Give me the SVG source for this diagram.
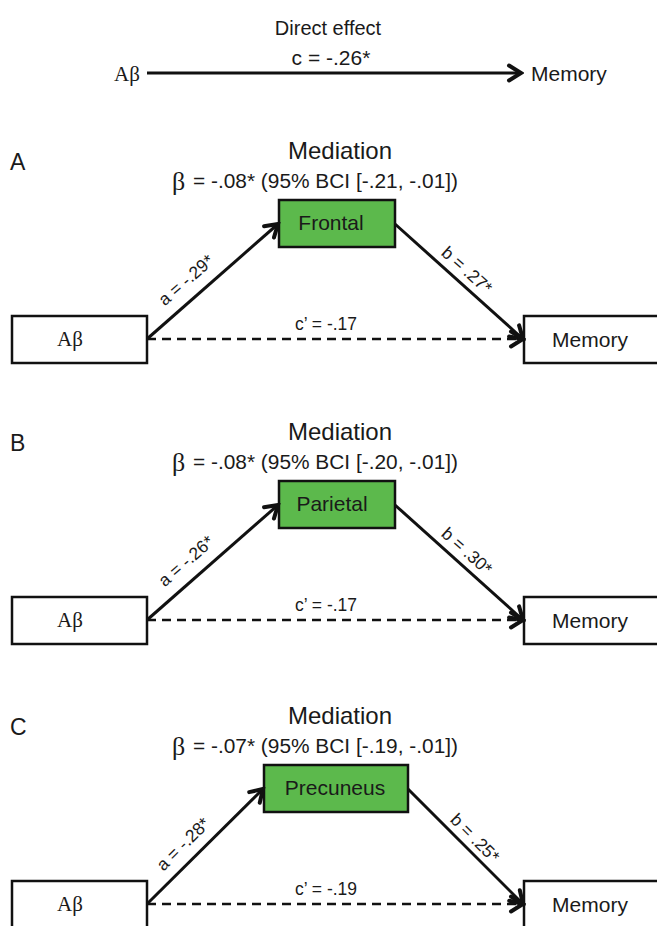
<svg xmlns="http://www.w3.org/2000/svg" width="657" height="926" viewBox="0 0 657 926">
<style>
.t{font-family:"Liberation Sans",Arial,sans-serif;fill:#1a1a1a}
.s{font-family:"Liberation Serif","Times New Roman",serif;fill:#1a1a1a}
.box{fill:#fff;stroke:#111;stroke-width:2.5}
.med{fill:#5cb94c;stroke:#111;stroke-width:2.5}
.ln{stroke:#111;stroke-width:3;fill:none}
.dash{stroke:#111;stroke-width:2.5;stroke-dasharray:9 6;fill:none}
.lbl{font-size:17.5px}
</style>
<defs>
<marker id="arr" markerUnits="userSpaceOnUse" markerWidth="20" markerHeight="20" viewBox="0 0 20 20" refX="17" refY="10" orient="auto">
<path d="M5,2.5 L17,10 L5,17.5" fill="none" stroke="#111" stroke-width="4" stroke-linecap="round" stroke-linejoin="miter" stroke-dasharray="none"/>
</marker>
</defs>

<g id="top">
<text class="t" x="328" y="35" font-size="20" text-anchor="middle">Direct effect</text>
<text class="t" x="331" y="65" font-size="21" text-anchor="middle">c = -.26*</text>
<text id="top-abeta" class="s" x="127" y="81" font-size="21" text-anchor="middle">Aβ</text>
<text id="top-memory" class="t" x="531" y="81" font-size="21">Memory</text>
</g>

<!-- Panel A -->
<g id="panelA-titles">
<text class="t" x="10" y="170" font-size="23">A</text>
<text class="t" x="340" y="159" font-size="24" text-anchor="middle">Mediation</text>
<text class="s" x="172" y="190" font-size="26">β</text>
<text class="t" x="193" y="188" font-size="20" textLength="265" lengthAdjust="spacingAndGlyphs">= -.08* (95% BCI [-.21, -.01])</text>
</g>
<g id="A-abeta"><rect class="box" x="12" y="316" width="135" height="47"/><text class="s" x="70" y="346" font-size="21" text-anchor="middle">Aβ</text></g>
<g id="A-frontal"><rect class="med" x="279" y="200" width="116" height="47"/><text class="t" x="331" y="230" font-size="21" text-anchor="middle">Frontal</text></g>
<g id="A-memory"><rect class="box" x="524" y="316" width="140" height="47"/><text class="t" x="590" y="347" font-size="21" text-anchor="middle">Memory</text></g>

<!-- Panel B -->
<g id="panelB-titles">
<text class="t" x="10" y="451" font-size="23">B</text>
<text class="t" x="340" y="440" font-size="24" text-anchor="middle">Mediation</text>
<text class="s" x="172" y="471" font-size="26">β</text>
<text class="t" x="193" y="469" font-size="20" textLength="265" lengthAdjust="spacingAndGlyphs">= -.08* (95% BCI [-.20, -.01])</text>
</g>
<g id="B-abeta"><rect class="box" x="12" y="597" width="135" height="47"/><text class="s" x="70" y="627" font-size="21" text-anchor="middle">Aβ</text></g>
<g id="B-parietal"><rect class="med" x="279" y="481" width="116" height="47"/><text class="t" x="332" y="511" font-size="21" text-anchor="middle">Parietal</text></g>
<g id="B-memory"><rect class="box" x="524" y="597" width="140" height="47"/><text class="t" x="590" y="628" font-size="21" text-anchor="middle">Memory</text></g>

<!-- Panel C -->
<g id="panelC-titles">
<text class="t" x="10" y="735" font-size="23">C</text>
<text class="t" x="340" y="724" font-size="24" text-anchor="middle">Mediation</text>
<text class="s" x="172" y="755" font-size="26">β</text>
<text class="t" x="193" y="753" font-size="20" textLength="265" lengthAdjust="spacingAndGlyphs">= -.07* (95% BCI [-.19, -.01])</text>
</g>
<g id="C-abeta"><rect class="box" x="12" y="881" width="135" height="47"/><text class="s" x="70" y="911" font-size="21" text-anchor="middle">Aβ</text></g>
<g id="C-precuneus"><rect class="med" x="264" y="765" width="144" height="47"/><text class="t" x="335" y="795" font-size="21" text-anchor="middle">Precuneus</text></g>
<g id="C-memory"><rect class="box" x="524" y="881" width="140" height="47"/><text class="t" x="590" y="912" font-size="21" text-anchor="middle">Memory</text></g>

<g id="connectors">
<line class="ln" x1="147" y1="73" x2="521" y2="73" marker-end="url(#arr)"/>

<line class="ln" x1="147" y1="339" x2="278" y2="224" marker-end="url(#arr)"/>
<line class="ln" x1="395" y1="224" x2="523" y2="339" marker-end="url(#arr)"/>
<line class="dash" x1="147" y1="339" x2="523" y2="339" marker-end="url(#arr)"/>
<text class="t lbl" text-anchor="middle" transform="translate(186,280) rotate(-41.1)" y="6">a = -.29*</text>
<text class="t lbl" text-anchor="middle" transform="translate(467,270) rotate(41.9)" y="6">b = .27*</text>
<text class="t lbl" text-anchor="middle" x="326" y="330">c’ = -.17</text>

<line class="ln" x1="147" y1="620" x2="278" y2="505" marker-end="url(#arr)"/>
<line class="ln" x1="395" y1="505" x2="523" y2="620" marker-end="url(#arr)"/>
<line class="dash" x1="147" y1="620" x2="523" y2="620" marker-end="url(#arr)"/>
<text class="t lbl" text-anchor="middle" transform="translate(186,561) rotate(-41.1)" y="6">a = -.26*</text>
<text class="t lbl" text-anchor="middle" transform="translate(467,551) rotate(41.9)" y="6">b = .30*</text>
<text class="t lbl" text-anchor="middle" x="326" y="611">c’ = -.17</text>

<line class="ln" x1="147" y1="904" x2="263" y2="789" marker-end="url(#arr)"/>
<line class="ln" x1="408" y1="789" x2="523" y2="904" marker-end="url(#arr)"/>
<line class="dash" x1="147" y1="904" x2="523" y2="904" marker-end="url(#arr)"/>
<text class="t lbl" text-anchor="middle" transform="translate(183,844) rotate(-44.5)" y="6">a = -.28*</text>
<text class="t lbl" text-anchor="middle" transform="translate(475,838) rotate(45)" y="6">b = .25*</text>
<text class="t lbl" text-anchor="middle" x="326" y="895">c’ = -.19</text>
</g>
</svg>
